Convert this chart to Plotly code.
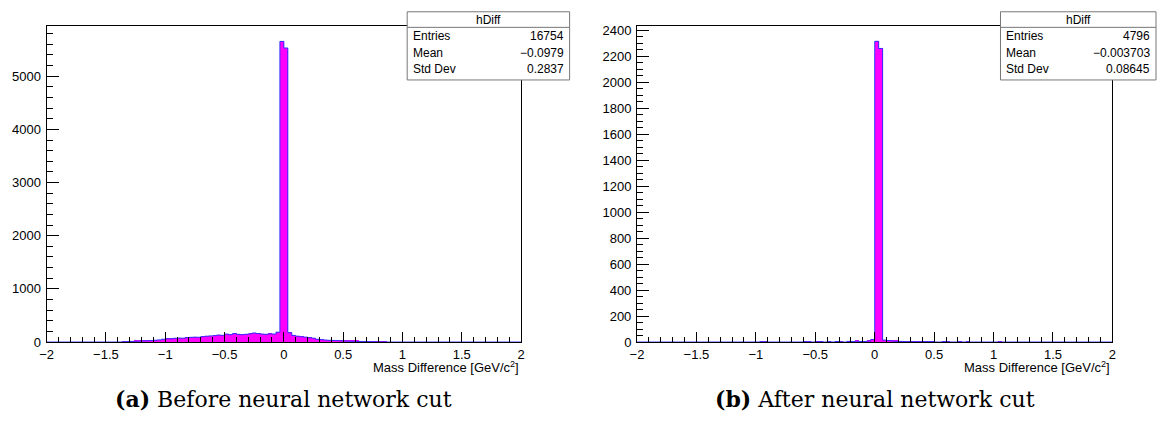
import plotly.graph_objects as go

# ---------------- data ----------------
n_bins = 120
x_min, x_max = -2.0, 2.0

# counts per bin (bin k covers [-2 + k/30, -2 + (k+1)/30])
before_counts = ([0] * 19 +
                 [5, 8, 12, 15, 18, 20, 24, 28, 34, 40,
                  52, 62, 60, 70, 75, 72, 82, 88, 92, 90,
                  102, 110, 115, 120, 132, 126, 150, 138, 160, 145,
                  138, 146, 155, 170, 160, 150, 145, 155, 150, 185,
                  5654, 5531,
                  175, 125, 110, 100, 92, 82, 72, 52, 46, 38,
                  32, 30, 27, 24, 20, 17, 15, 13, 11, 9,
                  8, 6, 5, 4, 3] +
                 [0] * 34)

after_counts = ([0] * 31 +
                [3, 2, 0, 0, 0, 0, 0, 0, 0, 0,
                 0, 3, 2, 0, 2, 3, 0, 3, 0, 4,
                 2, 0, 5, 4, 6, 4, 3, 8, 20,
                 2315, 2260,
                 15, 12, 8, 6, 5, 4, 3, 2, 3, 2,
                 3, 4, 3, 0, 0, 3, 2, 0, 0, 2,
                 0, 2, 0, 0, 0, 0, 0, 0, 0, 1] +
                [0] * 29)

stats_before = {"Entries": "16754", "Mean": "\u22120.0979", "Std Dev": "0.2837"}
stats_after = {"Entries": "4796", "Mean": "\u22120.003703", "Std Dev": "0.08645"}
hist_name = "hDiff"
x_title = "Mass Difference [GeV/c<sup>2</sup>]"
captions = ["<b>(a)</b> Before neural network cut", "<b>(b)</b> After neural network cut"]
x_tickvals = [-2, -1.5, -1, -0.5, 0, 0.5, 1, 1.5, 2]
x_ticktext = ["\u22122", "\u22121.5", "\u22121", "\u22120.5", "0", "0.5", "1", "1.5", "2"]
y_max = [5937, 2430]
y_major = [1000, 200]
y_minor = [200, 50]

# ---------------- figure ----------------
W, H = 1161, 427
bw = (x_max - x_min) / n_bins
centers = [x_min + (k + 0.5) * bw for k in range(n_bins)]
edges = [x_min + k * bw for k in range(n_bins + 1)]

fig = go.Figure()

panels = [
    dict(counts=before_counts, stats=stats_before, px=(40, 519), box=(404, 568), xa="x", ya="y"),
    dict(counts=after_counts, stats=stats_after, px=(636, 1116), box=(1003, 1160), xa="x2", ya="y2"),
]

frame_top, frame_bot = 24, 348


def py(p):
    return 1 - p / H


def pxx(p):
    return p / W


for i, p in enumerate(panels):
    fig.add_trace(go.Bar(x=centers, y=p["counts"], width=bw,
                         marker=dict(color="#ff00ff", line=dict(width=0)),
                         xaxis=p["xa"], yaxis=p["ya"], showlegend=False, hoverinfo="skip"))
    fig.add_trace(go.Scatter(x=edges, y=list(p["counts"]) + [p["counts"][-1]],
                             mode="lines", line=dict(color="#3030ff", width=1, shape="hv"),
                             xaxis=p["xa"], yaxis=p["ya"], showlegend=False, hoverinfo="skip"))

    sfx = "" if i == 0 else "2"
    tick_font = dict(family="Liberation Sans, Arial, sans-serif", size=13, color="black")
    fig.layout["xaxis" + sfx] = dict(
        domain=[pxx(p["px"][0]), pxx(p["px"][1])], range=[x_min, x_max],
        anchor="y" + sfx, showgrid=False, zeroline=False,
        showline=True, linecolor="black", linewidth=1, mirror=True,
        ticks="inside", ticklen=10, tickcolor="black",
        tickmode="array", tickvals=x_tickvals, ticktext=x_ticktext, tickangle=0,
        minor=dict(ticks="inside", ticklen=5, dtick=0.1, tick0=0, tickcolor="black", showgrid=False),
        tickfont=tick_font,
    )
    fig.layout["yaxis" + sfx] = dict(
        domain=[py(frame_bot), py(frame_top)], range=[0, y_max[i]],
        anchor="x" + sfx, showgrid=False, zeroline=False,
        showline=True, linecolor="black", linewidth=1, mirror=True,
        ticks="inside", ticklen=12, tickcolor="black", dtick=y_major[i], tick0=0,
        minor=dict(ticks="inside", ticklen=6, dtick=y_minor[i], tickcolor="black", showgrid=False),
        tickfont=tick_font, ticklabelstandoff=2,
    )

    # x axis title
    fig.add_annotation(x=pxx(p["px"][1]), y=py(363), xref="paper", yref="paper",
                       xanchor="right", yanchor="top", text=x_title, showarrow=False,
                       font=dict(family="Liberation Sans, Arial, sans-serif", size=13, color="black"))

    # caption
    fig.add_annotation(x=pxx((p["px"][0] + p["px"][1]) / 2), y=py(406), xref="paper", yref="paper",
                       xanchor="center", yanchor="middle", text=captions[i], showarrow=False,
                       font=dict(family="DejaVu Serif, serif", size=22, color="black"))

    # stats box
    bx0, bx1 = p["box"]
    by0, by1 = 9, 79
    fig.add_shape(type="rect", xref="paper", yref="paper",
                  x0=pxx(bx0), x1=pxx(bx1), y0=py(by1), y1=py(by0),
                  line=dict(color="#777777", width=1), fillcolor="white", layer="above")
    fig.add_shape(type="line", xref="paper", yref="paper",
                  x0=pxx(bx0), x1=pxx(bx1), y0=py(25), y1=py(25),
                  line=dict(color="#777777", width=1), layer="above")
    sfont = dict(family="Liberation Sans, Arial, sans-serif", size=12, color="black")
    fig.add_annotation(x=pxx((bx0 + bx1) / 2), y=py(17), xref="paper", yref="paper",
                       xanchor="center", yanchor="middle", text=hist_name, showarrow=False, font=sfont)
    for j, (k, v) in enumerate(p["stats"].items()):
        yy = py(34 + j * 17)
        fig.add_annotation(x=pxx(bx0 + 4), y=yy, xref="paper", yref="paper",
                           xanchor="left", yanchor="middle", text=k, showarrow=False, font=sfont)
        fig.add_annotation(x=pxx(bx1 - 4), y=yy, xref="paper", yref="paper",
                           xanchor="right", yanchor="middle", text=v, showarrow=False, font=sfont)

fig.update_layout(width=W, height=H, margin=dict(l=0, r=0, t=0, b=0),
                  paper_bgcolor="white", plot_bgcolor="white", bargap=0, barmode="overlay")

fig.write_html("out.html", config={"displayModeBar": False},
               post_script="document.body.style.margin='0';document.body.style.overflow='hidden';")
